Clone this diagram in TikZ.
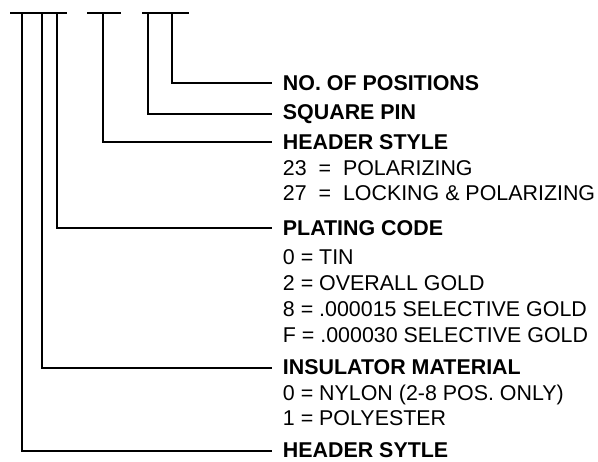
\documentclass[tikz,border=0pt]{standalone}
\usepackage{fontspec}
\setmainfont{Liberation Sans}
\begin{document}
\begin{tikzpicture}[x=1pt,y=-1pt,line width=1.9pt,
  head/.style={anchor=base west,inner sep=0pt,font=\fontsize{21.4}{24}\selectfont\bfseries},
  item/.style={anchor=base west,inner sep=0pt,font=\fontsize{21.4}{24}\selectfont},
  bar/.style={line width=2.2pt},
  lead/.style={line width=1.9pt}]
\useasboundingbox (0,0) rectangle (598,462);
% bars under the (cut-off) part number
\coordinate (b1l) at (10,13);  \coordinate (b1r) at (67,13);
\coordinate (b2l) at (87,13);  \coordinate (b2r) at (121,13);
\coordinate (b3l) at (142,13); \coordinate (b3r) at (189,13);
\draw[bar] (b1l) -- (b1r);
\draw[bar] (b2l) -- (b2r);
\draw[bar] (b3l) -- (b3r);
% tops of the leaders
\coordinate (t1) at (22,13);
\coordinate (t2) at (42,13);
\coordinate (t3) at (57,13);
\coordinate (t4) at (103,13);
\coordinate (t5) at (148,13);
\coordinate (t6) at (172,13);
% texts
\node[head] (hNo) at (282,90.6)  {NO. OF POSITIONS};
\node[head] (hSq) at (282,119.6) {SQUARE PIN};
\node[head] (hHs) at (282,149.6) {HEADER STYLE};
\node[item] (i23) at (282,175.5) {23~~=~~POLARIZING};
\node[item] (i27) at (282,201)   {27~~=~~LOCKING \& POLARIZING};
\node[head] (hPl) at (282,235.6) {PLATING CODE};
\node[item] (iT)  at (282,265)   {0 = TIN};
\node[item] (iO)  at (282,291)   {2 = OVERALL GOLD};
\node[item] (i8)  at (282,317)   {8 = .000015 SELECTIVE GOLD};
\node[item] (iF)  at (282,343)   {F = .000030 SELECTIVE GOLD};
\node[head] (hIn) at (282,375)   {INSULATOR MATERIAL};
\node[item] (iN)  at (282,401)   {0 = NYLON (2-8 POS. ONLY)};
\node[item] (iP)  at (282,426)   {1 = POLYESTER};
\node[head] (hHy) at (282,458)   {HEADER SYTLE};
% leaders
\draw[lead] (t6) |- ([xshift=-10pt]hNo.west);
\draw[lead] (t5) |- ([xshift=-10pt]hSq.west);
\draw[lead] (t4) |- ([xshift=-10pt]hHs.west);
\draw[lead] (t3) |- ([xshift=-10pt]hPl.west);
\draw[lead] (t2) |- ([xshift=-10pt]hIn.west);
\draw[lead] (t1) |- ([xshift=-10pt]hHy.west);
\end{tikzpicture}
\end{document}
